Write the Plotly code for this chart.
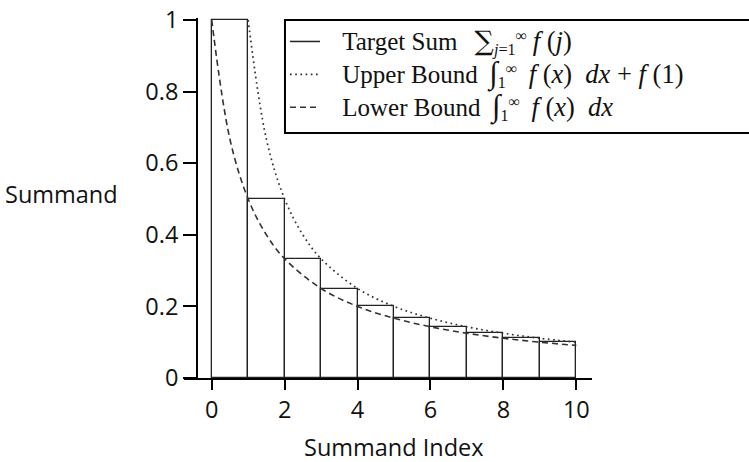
import plotly.graph_objects as go

# ---- data ----
summand_index = [1, 2, 3, 4, 5, 6, 7, 8, 9, 10]
summand_value = [1.0, 0.5, 0.333, 0.25, 0.2, 0.167, 0.143, 0.125, 0.111, 0.1]

upper_x = [1, 1.5, 2, 2.5, 3, 4, 5, 6, 7, 8, 9, 10]
upper_y = [1.0, 0.667, 0.5, 0.4, 0.333, 0.25, 0.2, 0.167, 0.143, 0.125, 0.111, 0.1]

lower_x = [0, 0.5, 1, 1.5, 2, 3, 4, 5, 6, 7, 8, 9, 10]
lower_y = [1.0, 0.667, 0.5, 0.4, 0.333, 0.25, 0.2, 0.167, 0.143, 0.125, 0.111, 0.1, 0.091]

x_ticks = [0, 2, 4, 6, 8, 10]
y_ticks = [0, 0.2, 0.4, 0.6, 0.8, 1]
y_tick_text = ["0", "0.2", "0.4", "0.6", "0.8", "1"]

NB = "\u00a0"
PAD = NB * 3
WORD = '<span style="font-size:25px">{}</span>'
SUM = "<span style=\"font-size:27px;font-family:'DejaVu Serif'\">∑</span>"
INT = '<span style="font-size:31px">∫</span>'
MATH = '<span style="font-size:26.5px">{}</span>'
legend_target = (PAD + WORD.format("Target Sum") + NB * 3 + SUM
                 + "<sub><i>j</i>=1</sub><sup>∞</sup>" + NB + MATH.format("<i>f</i> (<i>j</i>)"))
legend_upper = (PAD + WORD.format("Upper Bound") + NB * 2 + INT
                + "<sub>1</sub><sup>∞</sup>" + NB * 2
                + MATH.format("<i>f</i> (<i>x</i>)" + NB * 2 + "<i>dx</i>" + NB + "+" + NB + "<i>f</i> (1)"))
legend_lower = (PAD + WORD.format("Lower Bound") + NB * 2 + INT
                + "<sub>1</sub><sup>∞</sup>" + NB * 2
                + MATH.format("<i>f</i> (<i>x</i>)" + NB * 2 + "<i>dx</i>"))

SANS = "Open Sans"
SERIF = "Liberation Serif"
TXT = "#111"
FS = 23.5

fig = go.Figure()

fig.add_trace(go.Bar(
    x=summand_index, y=summand_value, offset=-1, width=1,
    marker=dict(color="rgba(0,0,0,0)", line=dict(color="#222", width=1.3)),
    showlegend=False, hoverinfo="skip",
))

# legend entry for the target sum (solid line)
fig.add_trace(go.Scatter(
    x=[None], y=[None], mode="lines", name=legend_target,
    line=dict(color="#222", width=1.5),
))

fig.add_trace(go.Scatter(
    x=upper_x, y=upper_y, mode="lines", name=legend_upper,
    line=dict(color="#333", width=1.7, dash="1.7px,3.5px", shape="spline", smoothing=1.0),
))

fig.add_trace(go.Scatter(
    x=lower_x, y=lower_y, mode="lines", name=legend_lower,
    line=dict(color="#333", width=1.6, dash="6px,4px", shape="spline", smoothing=1.0),
))

fig.update_layout(
    width=749, height=462,
    margin=dict(l=184, r=157, t=18, b=84, autoexpand=False),
    plot_bgcolor="white", paper_bgcolor="white",
    bargap=0,
    font=dict(family=SANS, size=FS, color=TXT),
    legend=dict(
        x=0.2475, y=0.9944, xanchor="left", yanchor="top",
        bgcolor="rgba(0,0,0,0)", borderwidth=0,
        font=dict(family=SERIF, size=23, color=TXT),
        tracegroupgap=0,
    ),
    # legend frame (runs off the right edge, as in the reference)
    shapes=[
        dict(type="rect", xref="paper", yref="paper",
             x0=0.2475, x1=1.6, y0=1 - (133 - 18) / 360, y1=1 - (20 - 18) / 360,
             line=dict(color="black", width=2), fillcolor="white", layer="above"),
    ],
    xaxis=dict(
        range=[-0.76, 10.43], showgrid=False, zeroline=False,
        showline=True, linecolor="black", linewidth=2,
        ticks="outside", ticklen=10, tickwidth=2, tickcolor="black",
        tickvals=x_ticks, ticktext=[str(v) for v in x_ticks],
        tickfont=dict(family=SANS, size=FS, color=TXT),
    ),
    yaxis=dict(
        range=[0, 1.0056], showgrid=False, zeroline=False,
        anchor="free", position=0.0319,
        showline=True, linecolor="black", linewidth=2,
        ticks="outside", ticklen=13, tickwidth=2, tickcolor="black",
        tickvals=y_ticks, ticktext=y_tick_text,
        tickfont=dict(family=SANS, size=FS, color=TXT),
    ),
    annotations=[
        dict(text="Summand", x=0, xref="paper", xanchor="right", xshift=-64,
             y=0.51, yref="paper", yanchor="middle", showarrow=False,
             font=dict(family=SANS, size=FS, color=TXT)),
        dict(text="Summand Index", x=5, xref="x", xanchor="center",
             y=0, yref="paper", yanchor="middle", yshift=-69, showarrow=False,
             font=dict(family=SANS, size=FS, color=TXT)),
    ],
)

fig.write_html("out.html", config={"displayModeBar": False},
               post_script="document.body.style.margin='0';")
